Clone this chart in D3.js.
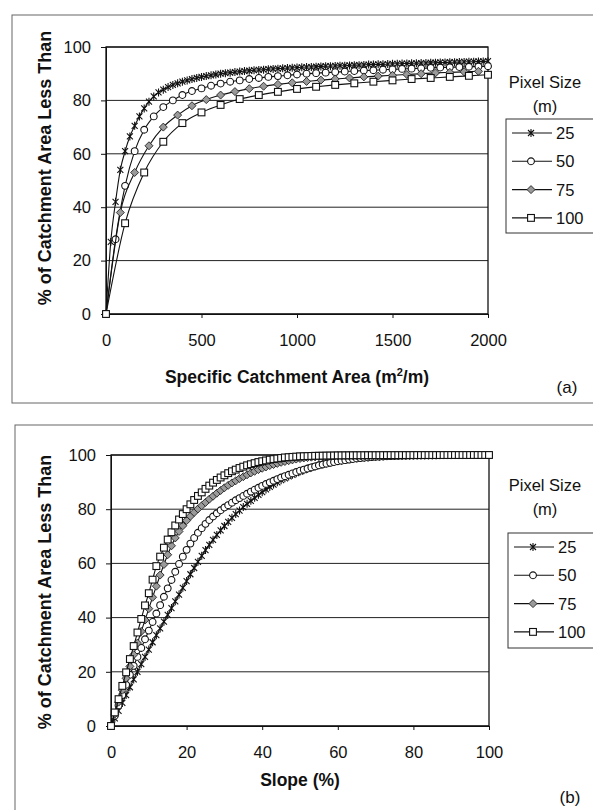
<!DOCTYPE html>
<html>
<head>
<meta charset="utf-8">
<script src="https://cdn.jsdelivr.net/npm/d3@7"></script>
<style>
  body { margin: 0; background: #fff; }
  text { font-family: Arial, "Liberation Sans", sans-serif; fill: #111; }
</style>
</head>
<body>
<div id="chart"></div>
<script>
// Pixel size series shown in both panels
var pixelSizes = ["25", "50", "75", "100"];
var yTicks = [0, 20, 40, 60, 80, 100];

// (a) specific catchment area (m2/m) vs cumulative % of area
var scaX25 = [0,25,50,75,100,125,150,175,200,225,250,275,300,325,350,375,400,425,450,475,500,525,550,575,600,625,650,675,700,725,750,775,800,825,850,875,900,925,950,975,1000,1025,1050,1075,1100,1125,1150,1175,1200,1225,1250,1275,1300,1325,1350,1375,1400,1425,1450,1475,1500,1525,1550,1575,1600,1625,1650,1675,1700,1725,1750,1775,1800,1825,1850,1875,1900,1925,1950,1975,2000];
var scaY25 = [0,27,42,54,61,66.5,70.5,74,77,79.5,81.5,83,84,85,85.8,86.4,87,87.5,88,88.4,88.8,89.1,89.4,89.7,90,90.2,90.4,90.6,90.8,91,91.1,91.3,91.4,91.5,91.7,91.8,91.9,92,92.1,92.2,92.3,92.4,92.5,92.5,92.6,92.7,92.8,92.8,92.9,93,93,93.1,93.2,93.2,93.3,93.4,93.4,93.5,93.5,93.6,93.7,93.7,93.8,93.8,93.9,93.9,94,94,94.1,94.1,94.2,94.2,94.3,94.3,94.4,94.4,94.5,94.5,94.6,94.6,94.7];
var scaX50 = [0,50,100,150,200,250,300,350,400,450,500,550,600,650,700,750,800,850,900,950,1000,1050,1100,1150,1200,1250,1300,1350,1400,1450,1500,1550,1600,1650,1700,1750,1800,1850,1900,1950,2000];
var scaY50 = [0,28,48,61,69,74,77.5,80,82,83.5,84.5,85.5,86.3,87,87.5,88,88.4,88.8,89.1,89.4,89.7,90,90.2,90.4,90.6,90.8,91,91.2,91.3,91.5,91.6,91.8,91.9,92,92.2,92.3,92.4,92.5,92.6,92.7,92.8];
var scaX75 = [0,75,150,225,300,375,450,525,600,675,750,825,900,975,1050,1125,1200,1275,1350,1425,1500,1575,1650,1725,1800,1875,1950];
var scaY75 = [0,38,53,63,70,74.5,78,80.3,82,83.3,84.4,85.3,86,86.6,87.1,87.6,88,88.4,88.8,89.1,89.4,89.7,90,90.3,90.5,90.7,90.9];
var scaX100 = [0,100,200,300,400,500,600,700,800,900,1000,1100,1200,1300,1400,1500,1600,1700,1800,1900,2000];
var scaY100 = [0,34,53,64.5,71.5,75.5,78.3,80.5,82,83.2,84.3,85.1,85.8,86.4,87,87.5,88,88.4,88.8,89.2,89.6];
var scaTicks = [0, 500, 1000, 1500, 2000];

// (b) slope (%) vs cumulative % of area
var slopeX = [0,1,2,3,4,5,6,7,8,9,10,11,12,13,14,15,16,17,18,19,20,21,22,23,24,25,26,27,28,29,30,31,32,33,34,35,36,37,38,39,40,41,42,43,44,45,46,47,48,49,50,51,52,53,54,55,56,57,58,59,60,61,62,63,64,65,66,67,68,69,70,71,72,73,74,75,76,77,78,79,80,81,82,83,84,85,86,87,88,89,90,91,92,93,94,95,96,97,98,99,100];
var slopeY25 = [0,2.8,5.6,8.5,11.4,14.3,17.2,20,22.8,25.5,28.2,30.9,33.5,36,38.5,41,43.5,46,48.5,51,53.5,56,58.3,60.6,62.8,64.9,66.8,68.7,70.5,72.2,73.8,75.3,76.8,78.2,79.5,80.8,82,83.1,84.2,85.3,86.3,87.3,88.2,89.1,89.9,90.7,91.4,92.1,92.7,93.3,93.9,94.4,94.9,95.4,95.8,96.2,96.6,96.9,97.2,97.5,97.8,98,98.2,98.4,98.6,98.8,98.95,99.1,99.2,99.3,99.4,99.47,99.54,99.6,99.65,99.7,99.74,99.78,99.81,99.84,99.87,99.89,99.91,99.92,99.93,99.94,99.95,99.96,99.97,99.97,99.98,99.98,99.98,99.99,99.99,99.99,99.99,100,100,100,100];
var slopeY50 = [0,3.8,7.6,11.4,15.2,18.9,22.2,25.5,28.8,32,35.2,38.4,41.5,44.6,47.7,50.8,53.9,56.9,59.8,62.5,65,67.3,69.4,71.3,73,74.6,76,77.3,78.5,79.6,80.6,81.5,82.4,83.3,84.1,84.9,85.7,86.5,87.2,87.9,88.6,89.3,89.9,90.5,91.1,91.7,92.2,92.7,93.2,93.7,94.2,94.6,95,95.4,95.8,96.2,96.5,96.8,97.1,97.4,97.7,97.9,98.1,98.3,98.5,98.7,98.85,99,99.1,99.2,99.3,99.38,99.45,99.52,99.58,99.63,99.68,99.72,99.76,99.8,99.83,99.86,99.88,99.9,99.92,99.93,99.94,99.95,99.96,99.97,99.97,99.98,99.98,99.98,99.99,99.99,99.99,99.99,100,100,100];
var slopeY75 = [0,4.4,8.8,13.2,17.6,22,26.3,30.6,34.9,39.1,43.3,47.5,51.6,55.7,59.6,63.2,66.5,69.4,71.8,73.9,75.8,77.4,78.8,80.1,81.3,82.5,83.7,84.8,85.9,86.9,87.9,88.8,89.7,90.5,91.3,92,92.7,93.4,94,94.6,95.1,95.6,96.1,96.5,96.9,97.3,97.6,97.9,98.2,98.5,98.7,98.9,99.05,99.2,99.3,99.4,99.5,99.55,99.6,99.65,99.7,99.72,99.74,99.76,99.78,99.8,99.82,99.83,99.84,99.85,99.86,99.87,99.88,99.89,99.9,99.9,99.91,99.92,99.92,99.93,99.93,99.94,99.94,99.95,99.95,99.96,99.96,99.96,99.97,99.97,99.97,99.98,99.98,99.98,99.98,99.99,99.99,99.99,99.99,100,100];
var slopeY100 = [0,5,9.9,14.8,19.8,24.7,29.5,34.5,39.5,44.5,49,54,59,62.5,65.8,68.8,71.5,74,76.2,78.2,80,81.8,83.4,84.9,86.2,87.5,88.7,89.8,90.8,91.7,92.5,93.3,94,94.6,95.2,95.7,96.2,96.6,97,97.4,97.7,98,98.3,98.5,98.7,98.9,99.1,99.2,99.3,99.4,99.5,99.55,99.6,99.65,99.7,99.72,99.75,99.78,99.8,99.82,99.85,99.86,99.87,99.88,99.89,99.9,99.9,99.91,99.92,99.92,99.93,99.93,99.94,99.94,99.95,99.95,99.95,99.96,99.96,99.96,99.97,99.97,99.97,99.97,99.98,99.98,99.98,99.98,99.98,99.99,99.99,99.99,99.99,99.99,99.99,99.99,100,100,100,100,100];
var slopeTicks = [0, 20, 40, 60, 80, 100];

var svg = d3.select("#chart")
  .append("svg")
  .attr("width", 593)
  .attr("height", 810);

var zip = (xs, ys) => xs.map((x, i) => ({ x: x, y: ys[i] }));

// marker shapes, one per pixel size
function drawMarker(sel, kind) {
  if (kind === "star") {
    sel.append("path")
      .attr("d", "M-3,-3L3,3M-3,3L3,-3M0,-4L0,4")
      .attr("stroke", "#111").attr("stroke-width", 1.1).attr("fill", "none");
  } else if (kind === "circle") {
    sel.append("circle").attr("r", 3.4)
      .attr("fill", "#fff").attr("stroke", "#111").attr("stroke-width", 1.1);
  } else if (kind === "diamond") {
    sel.append("path").attr("d", "M0,-4L4,0L0,4L-4,0Z")
      .attr("fill", "#9a9a9a").attr("stroke", "#222").attr("stroke-width", 0.9);
  } else {
    sel.append("rect").attr("x", -3.4).attr("y", -3.4).attr("width", 6.8).attr("height", 6.8)
      .attr("fill", "#fff").attr("stroke", "#111").attr("stroke-width", 1.1);
  }
}
var markerKinds = ["star", "circle", "diamond", "square"];

function drawPanel(p) {
  // outer chart frame
  svg.append("rect")
    .attr("x", p.frame[0]).attr("y", p.frame[1])
    .attr("width", 620).attr("height", p.frame[2])
    .attr("fill", "none").attr("stroke", "#666").attr("stroke-width", 1);

  var w = p.right - p.left, h = p.bottom - p.top;
  var g = svg.append("g").attr("transform", `translate(${p.left}, ${p.top})`);

  var x = d3.scaleLinear().domain([0, p.xMax]).range([0, w]);
  var y = d3.scaleLinear().domain([0, 100]).range([h, 0]);

  // gridlines
  g.selectAll(".grid").data(yTicks).enter().append("line")
    .attr("x1", 0).attr("x2", w)
    .attr("y1", d => y(d)).attr("y2", d => y(d))
    .attr("stroke", "#222").attr("stroke-width", 1);

  var yAxis = g.append("g")
    .call(d3.axisLeft(y).tickValues(yTicks).tickSize(5).tickPadding(10));
  var xAxis = g.append("g").attr("transform", `translate(0, ${h})`)
    .call(d3.axisBottom(x).tickValues(p.xTicks).tickFormat(d3.format("d"))
      .tickSize(4).tickPadding(16));
  [xAxis, yAxis].forEach(a => {
    a.selectAll("path, line").attr("stroke", "#111");
    a.selectAll("text").style("font-size", "16.5px").attr("fill", "#111");
  });

  g.append("rect").attr("width", w).attr("height", h)
    .attr("fill", "none").attr("stroke", "#111").attr("stroke-width", 1.3);

  var lineGen = d3.line().x(d => x(d.x)).y(d => y(d.y)).curve(d3.curveMonotoneX);

  p.series.forEach((s, i) => {
    var pts = zip(s.x, s.y);
    g.append("path").datum(pts)
      .attr("d", lineGen)
      .attr("fill", "none").attr("stroke", "#111").attr("stroke-width", 1.1);
    g.selectAll(".m" + i).data(pts).enter().append("g")
      .attr("transform", d => `translate(${x(d.x)}, ${y(d.y)})`)
      .each(function() { drawMarker(d3.select(this), markerKinds[i]); });
  });

  // axis titles
  svg.append("text")
    .attr("transform", `translate(45, ${p.yTitleY}) rotate(-90)`)
    .attr("text-anchor", "middle").attr("dominant-baseline", "central")
    .style("font-size", "18px").style("font-weight", "bold")
    .text("% of Catchment Area Less Than");

  var xt = svg.append("text")
    .attr("x", (p.left + p.right) / 2).attr("y", p.xTitleY)
    .attr("text-anchor", "middle")
    .style("font-size", "17.5px").style("font-weight", "bold");
  p.xTitle.forEach(part => {
    var t = xt.append("tspan").text(part.t);
    if (part.sup) t.attr("dy", "-7").style("font-size", "11px");
    if (part.after) t.attr("dy", "7");
  });

  svg.append("text").attr("x", p.tag[0]).attr("y", p.tag[1])
    .attr("text-anchor", "middle").style("font-size", "17px").text(p.tagText);

  // legend
  var lg = p.legend;
  svg.append("text").attr("x", 545).attr("y", lg.titleY)
    .attr("text-anchor", "middle").style("font-size", "16.5px").text("Pixel Size");
  svg.append("text").attr("x", 545).attr("y", lg.titleY + 24)
    .attr("text-anchor", "middle").style("font-size", "16.5px").text("(m)");
  svg.append("rect").attr("x", lg.x).attr("y", lg.y)
    .attr("width", 120).attr("height", lg.h)
    .attr("fill", "#fff").attr("stroke", "#333").attr("stroke-width", 1);
  pixelSizes.forEach((name, i) => {
    var ey = lg.y + 14 + i * 28.3;
    svg.append("line").attr("x1", lg.x + 6).attr("x2", lg.x + 46)
      .attr("y1", ey).attr("y2", ey).attr("stroke", "#111").attr("stroke-width", 1.1);
    drawMarker(svg.append("g").attr("transform", `translate(${lg.x + 25}, ${ey})`), markerKinds[i]);
    svg.append("text").attr("x", lg.x + 50).attr("y", ey + 6)
      .style("font-size", "16.5px").text(name);
  });
}

drawPanel({
  frame: [12, 15, 388],
  left: 106, right: 488, top: 47, bottom: 314,
  xMax: 2000, xTicks: scaTicks,
  series: [
    { x: scaX25, y: scaY25 }, { x: scaX50, y: scaY50 },
    { x: scaX75, y: scaY75 }, { x: scaX100, y: scaY100 }
  ],
  yTitleY: 168, xTitleY: 383,
  xTitle: [{ t: "Specific Catchment Area (m" }, { t: "2", sup: true }, { t: "/m)", after: true }],
  tag: [567, 393], tagText: "(a)",
  legend: { titleY: 88, x: 506, y: 119, h: 114 }
});

drawPanel({
  frame: [15, 425, 400],
  left: 111, right: 489, top: 455, bottom: 726,
  xMax: 100, xTicks: slopeTicks,
  series: [
    { x: slopeX, y: slopeY25 }, { x: slopeX, y: slopeY50 },
    { x: slopeX, y: slopeY75 }, { x: slopeX, y: slopeY100 }
  ],
  yTitleY: 592, xTitleY: 786,
  xTitle: [{ t: "Slope (%)" }],
  tag: [570, 803], tagText: "(b)",
  legend: { titleY: 491, x: 508, y: 533, h: 115 }
});
</script>
</body>
</html>
